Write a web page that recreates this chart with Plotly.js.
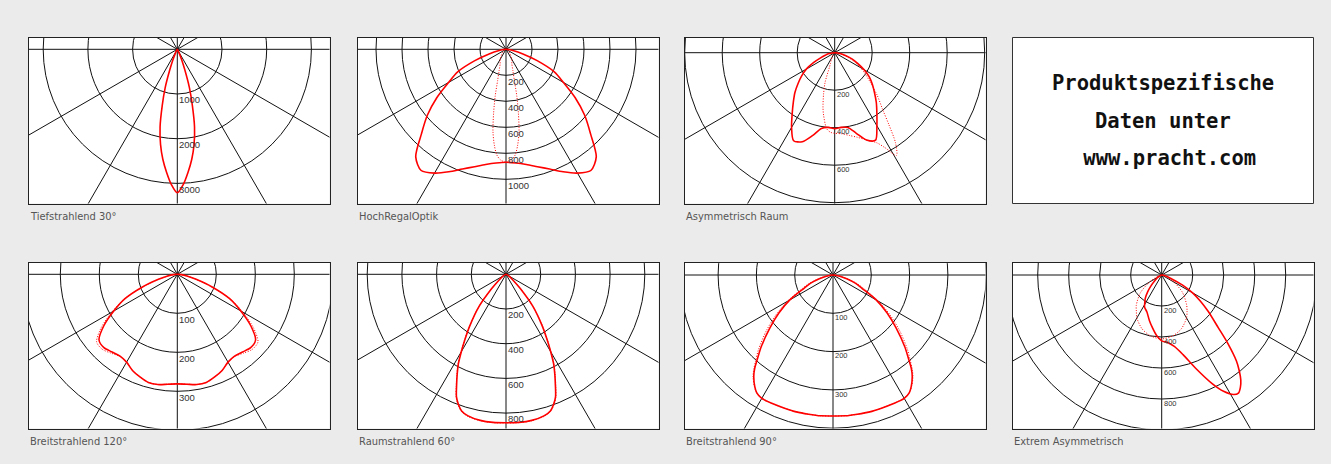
<!DOCTYPE html>
<html><head><meta charset="utf-8">
<script src="https://cdn.plot.ly/plotly-3.0.1.min.js"></script>
<style>html,body{margin:0;padding:0;background:#ebebeb}#chart{width:1331px;height:464px}</style>
</head><body><div id="chart"></div><script>
// ---------- DATA (angle in degrees from nadir, luminous intensity in cd/klm) ----------
const panelTitles = ['Tiefstrahlend 30°','HochRegalOptik','Asymmetrisch Raum','Breitstrahlend 120°','Raumstrahlend 60°','Breitstrahlend 90°','Extrem Asymmetrisch'];
const infoLines = ['Produktspezifische','Daten unter','\u00a0www.pracht.com'];

// Tiefstrahlend 30°
const p1Ang = [-90,-40,-30,-25,-22.5,-20,-17.5,-15,-12.5,-10,-7.5,-5,-2.5,0,2.5,5,7.5,10,12.5,15,17.5,20,22.5,25,30,40,90];
const p1C0  = [0,10,40,120,260,500,900,1300,1780,2160,2480,2760,3030,3210,3030,2760,2480,2160,1780,1300,900,500,260,120,40,10,0];
const p1Rings = [1000,2000,3000];
const p1Ticks = [1000,2000,3000];

// HochRegalOptik
const p2Ang = [-90,-85,-80,-75,-70,-65,-60,-55,-50,-45,-40,-35,-30,-25,-20,-15,-10,-5,0,5,10,15,20,25,30,35,40,45,50,55,60,65,70,75,80,85,90];
const p2C0  = [0,20,60,130,255,410,510,650,790,920,1080,1138,1100,1040,980,935,900,878,869,878,900,935,980,1040,1100,1138,1080,920,790,650,510,410,255,130,60,20,0];
const p2AngD = [-90,-60,-45,-30,-22,-18,-15,-13,-11,-9,-7,-5,-3,0,3,5,7,9,11,13,15,18,22,30,45,60,90];
const p2C90  = [0,15,40,90,120,170,250,370,500,640,740,815,850,869,850,815,740,640,500,370,250,170,120,90,40,15,0];
const p2Rings = [200,400,600,800,1000];
const p2Ticks = [200,400,600,800,1000];

// Asymmetrisch Raum
const p3Ang = [-90,-85,-80,-75,-70,-65,-60,-55,-50,-45,-40,-35,-30,-25,-20,-15,-10,-5,0,5,10,15,20,25,30,35,40,45,50,55,60,65,70,75,80,85,90];
const p3C0  = [0,15,35,52,80,125,175,215,255,300,343,395,460,518,505,458,410,400,405,400,405,445,495,515,450,392,345,300,262,225,180,135,100,62,38,15,0];
const p3AngD = [-90,-60,-40,-30,-25,-22,-20,-18,-15,-12,-10,-6,-3,0,5,10,15,20,25,28,31,34,37,40,45,50,55,60,65,70,80,90];
const p3C90  = [0,5,15,30,45,60,80,165,230,300,340,408,425,430,434,448,467,495,530,575,640,580,480,400,320,250,200,160,120,80,30,0];
const p3Rings = [200,400,600,800];
const p3Ticks = [200,400,600];

// Breitstrahlend 120°
const p5Ang = [-90,-85,-80,-75,-70,-65,-60,-55,-50,-45,-40,-35,-30,-25,-20,-15,-10,-5,0,5,10,15,20,25,30,35,40,45,50,55,60,65,70,75,80,85,90];
const p5C0  = [0,10,25,50,95,148,188,230,262,266,260,256,260,272,280,287,287,283,281,283,287,287,280,272,260,256,260,266,262,230,188,148,95,50,25,10,0];
const p5C90 = [0,10,25,50,95,150,194,238,270,272,264,257,260,272,280,287,287,283,281,283,287,287,280,272,260,257,264,272,270,238,194,150,95,50,25,10,0];
const p5Rings = [100,200,300,400];
const p5Ticks = [100,200,300];

// Raumstrahlend 60°
const p6Ang = [-90,-70,-60,-50,-45,-40,-35,-32,-30,-28,-26,-24,-22,-20,-18,-15,-10,-5,0,5,10,15,18,20,22,24,26,28,30,32,35,40,45,50,60,70,90];
const p6C0  = [0,5,20,55,118,240,365,450,515,585,642,700,762,800,828,845,855,857,856,857,855,845,828,800,762,700,642,585,515,450,365,240,118,55,20,5,0];
const p6C90 = [0,5,20,58,122,245,370,455,520,590,646,705,766,804,831,848,857,858,857,858,857,848,831,804,766,705,646,590,520,455,370,245,122,58,20,5,0];
const p6Rings = [200,400,600,800];
const p6Ticks = [200,400,600,800];

// Breitstrahlend 90°
const p7Ang = [-90,-85,-80,-75,-70,-65,-60,-55,-50,-45,-42,-40,-38,-35,-33,-30,-25,-20,-15,-10,-5,0,5,10,15,20,25,30,33,35,38,40,42,45,50,55,60,65,70,75,80,85,90];
const p7C0  = [0,6,18,37,62,85,130,172,215,265,295,318,336,356,366,372,371,370,370,369,369,368,369,369,370,370,371,372,366,356,336,318,295,265,215,172,130,85,62,37,18,6,0];
const p7C90 = [0,6,20,40,68,95,138,182,228,275,302,322,339,357,366,371,371,370,370,369,369,368,369,369,370,370,371,371,366,357,339,322,302,275,228,182,138,95,68,40,20,6,0];
const p7Rings = [100,200,300,400];
const p7Ticks = [100,200,300];

// Extrem Asymmetrisch
const p8Ang = [-90,-70,-60,-50,-45,-40,-35,-32,-28,-22,-15,-10,-5,0,5,10,15,20,25,28,31,33,35,37,39,41,44,47,52,56,60,64,70,80,90];
const p8C0  = [0,8,25,60,95,140,185,205,235,256,305,345,390,425,437,468,532,640,775,850,900,909,885,848,795,735,615,500,380,300,230,150,60,20,0];
const p8AngD = [-90,-70,-60,-50,-40,-35,-30,-20,-10,0,10,20,30,35,40,50,60,70,90];
const p8C90  = [0,30,90,180,255,285,320,370,400,412,400,370,320,285,250,175,90,30,0];
const p8Rings = [200,400,600,800,1000];
const p8Ticks = [200,400,600,800];

// ---------- GEOMETRY / STYLE ----------
const W = 1331, H = 464;
const panels = [
  {ang:p1Ang, c0:p1C0, angD:null,  c90:null,  rings:p1Rings, ticks:p1Ticks, L:28.5,  R:329.5,  T:37.5,  B:203.5, cx:177.3, cy:49.3, s:44.7/1000, small:false},
  {ang:p2Ang, c0:p2C0, angD:p2AngD, c90:p2C90, rings:p2Rings, ticks:p2Ticks, L:357.5, R:658.5,  T:37.5,  B:203.5, cx:506,   cy:49.3, s:26/200,    small:false},
  {ang:p3Ang, c0:p3C0, angD:p3AngD, c90:p3C90, rings:p3Rings, ticks:p3Ticks, L:684.5, R:985.5,  T:37.5,  B:203.5, cx:834.7, cy:52.7, s:37.5/200,  small:true},
  {ang:p5Ang, c0:p5C0, angD:p5Ang,  c90:p5C90, rings:p5Rings, ticks:p5Ticks, L:28.5,  R:329.5,  T:262.5, B:428.5, cx:177.3, cy:274.3, s:39/100,   small:false},
  {ang:p6Ang, c0:p6C0, angD:p6Ang,  c90:p6C90, rings:p6Rings, ticks:p6Ticks, L:357.5, R:658.5,  T:262.5, B:428.5, cx:506,   cy:274.3, s:34.7/200, small:false},
  {ang:p7Ang, c0:p7C0, angD:p7Ang,  c90:p7C90, rings:p7Rings, ticks:p7Ticks, L:684.5, R:985.5,  T:262.5, B:428.5, cx:833,   cy:275,  s:38.3/100,  small:true},
  {ang:p8Ang, c0:p8C0, angD:p8AngD, c90:p8C90, rings:p8Rings, ticks:p8Ticks, L:1012.5,R:1313.5, T:262.5, B:428.5, cx:1161.7,cy:275,  s:31/200,    small:true}
];
const info = {L:1012.5, R:1313.5, T:37.5, B:203.5, cx:1163, lineY:[83.3,120.7,158.3]};
const RED = '#ff0000';
const GRID = '#111111';

const traces = [], shapes = [], annotations = [];
const layout = {
  width: W, height: H, margin:{l:0,r:0,t:0,b:0},
  paper_bgcolor:'#ebebeb', plot_bgcolor:'#ffffff', showlegend:false, hovermode:false,
  font:{family:'Liberation Sans, Arial, sans-serif'}
};
function toXY(angs, vals){
  const x=[], y=[];
  for(let i=0;i<angs.length;i++){const t=angs[i]*Math.PI/180; x.push(vals[i]*Math.sin(t)); y.push(-vals[i]*Math.cos(t));}
  return {x,y};
}
panels.forEach((p,i)=>{
  const k = i+1, sfx = k>1?String(k):'';
  const xa='x'+sfx, ya='y'+sfx;
  layout['xaxis'+sfx] = {domain:[p.L/W, p.R/W], range:[-(p.cx-p.L)/p.s, (p.R-p.cx)/p.s], anchor:ya,
    visible:true, showgrid:false, zeroline:false, showticklabels:false, ticks:'', showline:true, mirror:true, linecolor:'#222', linewidth:1, fixedrange:true};
  layout['yaxis'+sfx] = {domain:[1-p.B/H, 1-p.T/H], range:[-(p.B-p.cy)/p.s, (p.cy-p.T)/p.s], anchor:xa,
    visible:true, showgrid:false, zeroline:false, showticklabels:false, ticks:'', showline:true, mirror:true, linecolor:'#222', linewidth:1, fixedrange:true};
  p.rings.forEach(r=>shapes.push({type:'circle', xref:xa, yref:ya, x0:-r, x1:r, y0:-r, y1:r, line:{color:GRID,width:1}, layer:'below'}));
  const big = 20*p.rings[p.rings.length-1];
  [0,30,60,90,120,150].forEach(a=>{const t=a*Math.PI/180;
    shapes.push({type:'line', xref:xa, yref:ya, x0:-big*Math.sin(t), y0:-big*Math.cos(t), x1:big*Math.sin(t), y1:big*Math.cos(t), line:{color:GRID,width:1}, layer:'below'});});
  p.ticks.forEach(v=>annotations.push({xref:xa, yref:ya, x:0, y:-v, text:String(v), showarrow:false, xanchor:'left', yanchor:'middle',
    xshift:0, yshift: p.small?-4.3:-5.8, font:{family:'Liberation Sans, Arial, sans-serif', size:p.small?7.5:9.5, color:'#333'}}));
  if(p.c90){const d=toXY(p.angD,p.c90);
    traces.push({type:'scatter', mode:'lines', x:d.x, y:d.y, xaxis:xa, yaxis:ya, line:{color:RED,width:1,dash:'1px,1.6px',shape:'spline',smoothing:0.8}, cliponaxis:true});}
  const c=toXY(p.ang,p.c0);
  traces.push({type:'scatter', mode:'lines', x:c.x, y:c.y, xaxis:xa, yaxis:ya, line:{color:RED,width:1.6,shape:'spline',smoothing:0.8}, cliponaxis:true});
  annotations.push({xref:'paper', yref:'paper', x:p.L/W, y:1-(p.B+13)/H, text:panelTitles[i], showarrow:false, xanchor:'left', yanchor:'middle', xshift:-1,
    font:{family:'Liberation Sans Narrow, DejaVu Sans Condensed, Arial Narrow, sans-serif', size:11, color:'#555'}});
});
shapes.push({type:'rect', xref:'paper', yref:'paper', x0:info.L/W, x1:info.R/W, y0:1-info.B/H, y1:1-info.T/H, fillcolor:'#ffffff', line:{color:'#333',width:1}, layer:'below'});
infoLines.forEach((t,j)=>annotations.push({xref:'paper', yref:'paper', x:info.cx/W, y:1-info.lineY[j]/H, text:'<b>'+t+'</b>', showarrow:false, xanchor:'center', yanchor:'middle',
  font:{family:'DejaVu Sans Mono, monospace', size:20.5, color:'#111'}}));
layout.shapes = shapes; layout.annotations = annotations;
Plotly.newPlot('chart', traces, layout, {staticPlot:true, displayModeBar:false});
</script></body></html>
